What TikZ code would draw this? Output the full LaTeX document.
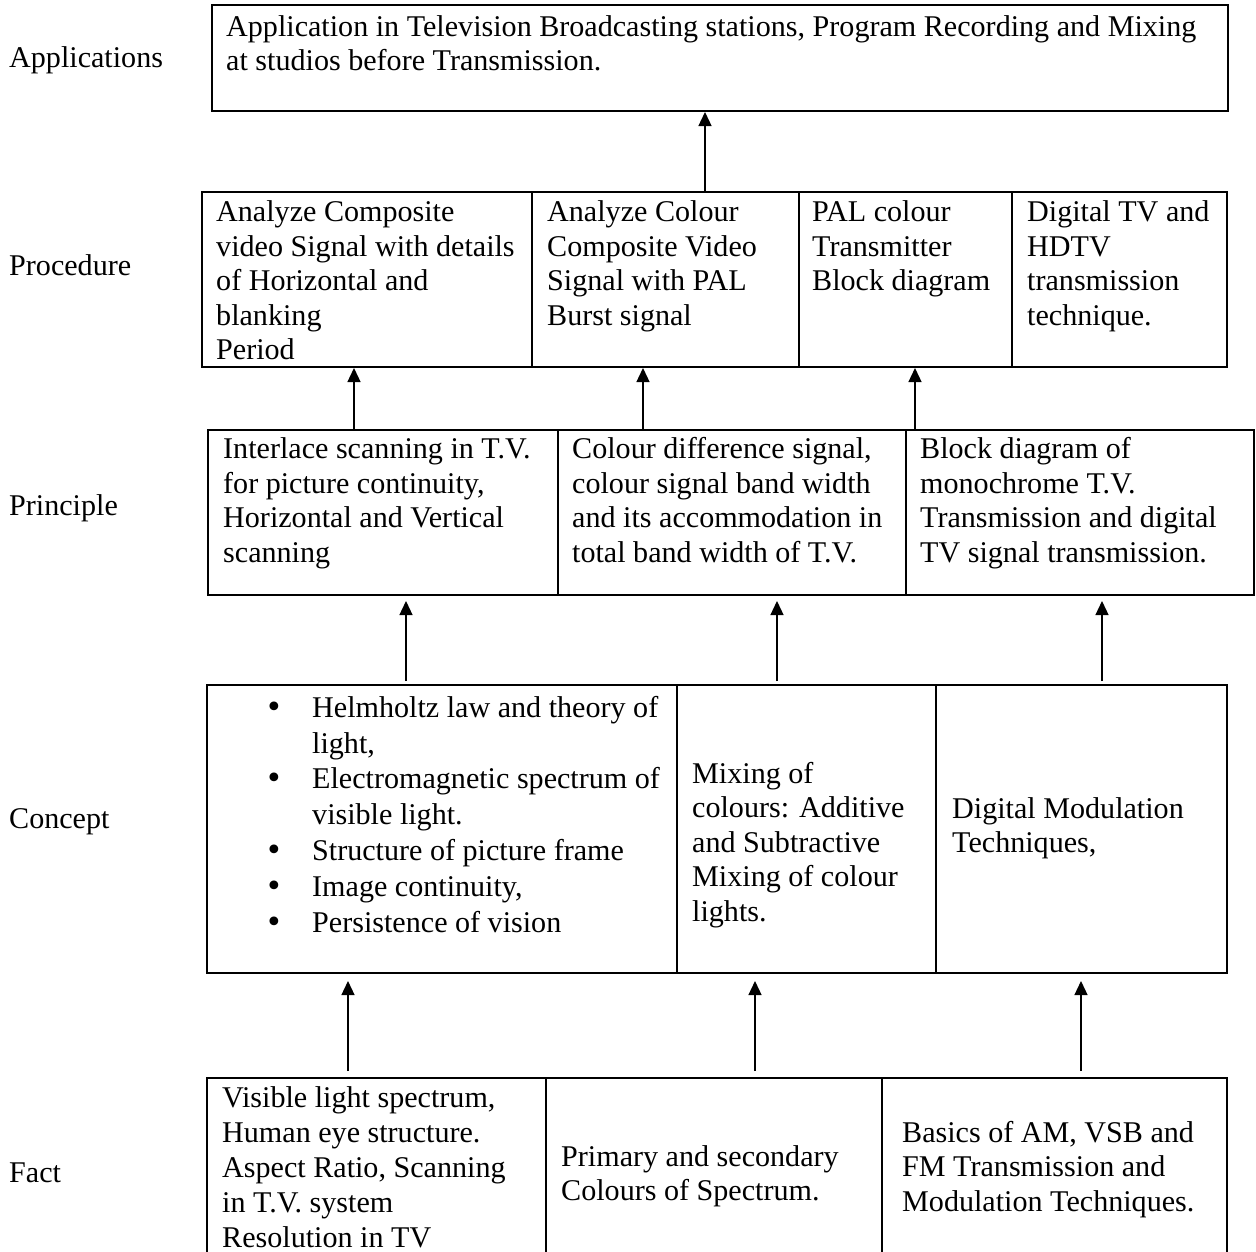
\documentclass[tikz,border=0pt]{standalone}
\usepackage{fontspec}
\setmainfont{Liberation Serif}
\newfontfamily\bulfont{DejaVu Sans}
\usetikzlibrary{arrows.meta}
\newcommand\cellnode[5]{\node[cellbox, minimum width={(#4-#2)*1pt}, minimum height={(#5-#3)*1pt}] (#1) at ({(#2+#4)/2},{(#3+#5)/2}) {};}
\newcommand\bul{\llap{\makebox[47pt][l]{\smash{\bulfont\fontsize{30}{0}\selectfont •}}}}
\newcommand\fr{\rule{0pt}{25pt}}
\begin{document}
\begin{tikzpicture}[x=1pt,y=-1pt,
  cellbox/.style={draw,line width=2pt,rectangle,inner sep=0pt},
  txt/.style={anchor=north west,inner sep=0pt,align=left,font=\fontsize{30.1}{34.5}\selectfont},
  lbl/.style={anchor=base west,inner sep=0pt,font=\fontsize{30.1}{34.5}\selectfont},
  arr/.style={line width=1.3pt,-{Triangle[width=13pt,length=14pt]}}]
\path[use as bounding box] (0,0) rectangle (1256,1251);
\fill[white] (0,0) rectangle (1256,1251);
\clip (0,0) rectangle (1256,1251);
% left labels
\node[lbl] (lApp) at (9,67) {Applications};
\node[lbl] (lProc) at (9,275) {Procedure};
\node[lbl] (lPrin) at (9,515) {Principle};
\node[lbl] (lCon) at (9,828) {Concept};
\node[lbl] (lFact) at (9,1182) {Fact};
% cells
\cellnode{app}{212}{5}{1228}{111}
\cellnode{pr1}{202}{192}{532}{367}
\cellnode{pr2}{532}{192}{799}{367}
\cellnode{pr3}{799}{192}{1012}{367}
\cellnode{pr4}{1012}{192}{1227}{367}
\cellnode{pc1}{208}{430}{558}{595}
\cellnode{pc2}{558}{430}{906}{595}
\cellnode{pc3}{906}{430}{1254}{595}
\cellnode{co1}{207}{685}{677}{973}
\cellnode{co2}{677}{685}{936}{973}
\cellnode{co3}{936}{685}{1227}{973}
\cellnode{fa1}{207}{1078}{546}{1270}
\cellnode{fa2}{546}{1078}{882}{1270}
\cellnode{fa3}{882}{1078}{1227}{1270}
% texts
\node[txt] (tApp) at (226,11) {\fr Application in Television Broadcasting stations, Program Recording and Mixing\\at studios before Transmission.};
\node[txt] (tPr1) at (216,196.5) {\fr Analyze Composite\\video Signal with details\\of Horizontal and\\blanking\\Period};
\node[txt] (tPr2) at (547,196.5) {\fr Analyze Colour\\Composite Video\\Signal with PAL\\Burst signal};
\node[txt] (tPr3) at (812,196.5) {\fr PAL colour\\Transmitter\\Block diagram};
\node[txt] (tPr4) at (1027,196.5) {\fr Digital TV and\\HDTV\\transmission\\technique.};
\node[txt] (tPc1) at (223,433.5) {\fr Interlace scanning in T.V.\\for picture continuity,\\Horizontal and Vertical\\scanning};
\node[txt] (tPc2) at (572,433.5) {\fr Colour difference signal,\\colour signal band width\\and its accommodation in\\total band width of T.V.};
\node[txt] (tPc3) at (920,433.5) {\fr Block diagram of\\monochrome T.V.\\Transmission and digital\\TV signal transmission.};
\node[txt,font=\fontsize{30.1}{35.8}\selectfont] (tCo1) at (312,692) {\fr\bul Helmholtz law and theory of\\light,\\\bul Electromagnetic spectrum of\\visible light.\\\bul Structure of picture frame\\\bul Image continuity,\\\bul Persistence of vision};
\node[txt] (tCo2) at (692,758) {\fr Mixing of\\colours: Additive\\and Subtractive\\Mixing of colour\\lights.};
\node[txt] (tCo3) at (952,793) {\fr Digital Modulation\\Techniques,};
\node[txt,font=\fontsize{30.1}{35}\selectfont] (tFa1) at (222,1082) {\fr Visible light spectrum,\\Human eye structure.\\Aspect Ratio, Scanning\\in T.V. system\\Resolution in TV};
\node[txt] (tFa2) at (561,1141) {\fr Primary and secondary\\Colours of Spectrum.};
\node[txt] (tFa3) at (902,1117) {\fr Basics of AM, VSB and\\FM Transmission and\\Modulation Techniques.};
% arrow columns
\coordinate (xa) at (705,0);
\coordinate (xb1) at (354,0);
\coordinate (xb2) at (643,0);
\coordinate (xb3) at (915,0);
\coordinate (xc1) at (406,0);
\coordinate (xc2) at (777,0);
\coordinate (xc3) at (1102,0);
\coordinate (xd1) at (348,0);
\coordinate (xd2) at (755,0);
\coordinate (xd3) at (1081,0);
% arrows
\draw[arr] (pr2.north -| xa) -- (app.south -| xa);
\draw[arr] (pc1.north -| xb1) -- (pr1.south -| xb1);
\draw[arr] (pc2.north -| xb2) -- (pr2.south -| xb2);
\draw[arr] (pc3.north -| xb3) -- (pr3.south -| xb3);
\draw[arr,shorten <=3pt,shorten >=5pt] (co1.north -| xc1) -- (pc1.south -| xc1);
\draw[arr,shorten <=3pt,shorten >=5pt] (co2.north -| xc2) -- (pc2.south -| xc2);
\draw[arr,shorten <=3pt,shorten >=5pt] (co3.north -| xc3) -- (pc3.south -| xc3);
\draw[arr,shorten <=6pt,shorten >=7pt] (fa1.north -| xd1) -- (co1.south -| xd1);
\draw[arr,shorten <=6pt,shorten >=7pt] (fa2.north -| xd2) -- (co2.south -| xd2);
\draw[arr,shorten <=6pt,shorten >=7pt] (fa3.north -| xd3) -- (co3.south -| xd3);
\end{tikzpicture}
\end{document}
